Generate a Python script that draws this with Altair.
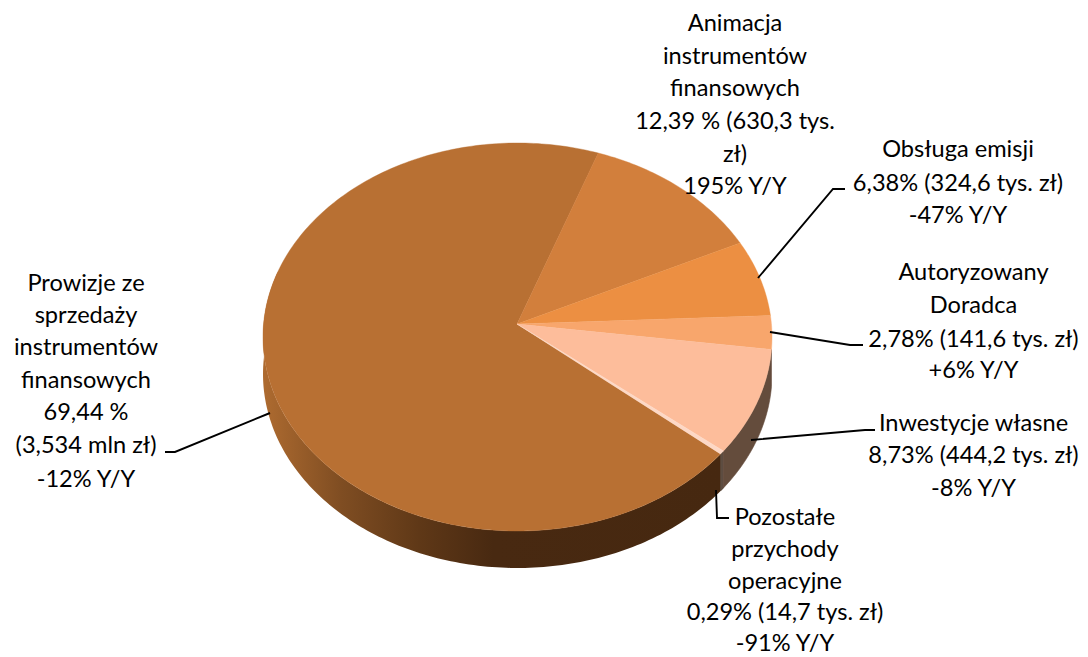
import math
import altair as alt

# ---- chart values ----
names = ["Animacja instrumentów finansowych", "Obsługa emisji", "Autoryzowany Doradca",
         "Inwestycje własne", "Pozostałe przychody operacyjne",
         "Prowizje ze sprzedaży instrumentów finansowych"]
shares = [12.39, 6.38, 2.78, 8.73, 0.29, 69.44]
top_colors = ["#D27F3C", "#EC8F42", "#F8A66C", "#FDBD9B", "#FDD8C6", "#B87033"]

label_lines = [
    ["Animacja", "instrumentów", "finansowych", "12,39 % (630,3 tys.", "zł)", "195% Y/Y"],
    ["Obsługa emisji", "6,38% (324,6 tys. zł)", "-47% Y/Y"],
    ["Autoryzowany", "Doradca", "2,78% (141,6 tys. zł)", "+6% Y/Y"],
    ["Inwestycje własne", "8,73% (444,2 tys. zł)", "-8% Y/Y"],
    ["Pozostałe", "przychody", "operacyjne", "0,29% (14,7 tys. zł)", "-91% Y/Y"],
    ["Prowizje ze", "sprzedaży", "instrumentów", "finansowych", "69,44 %", "(3,534 mln zł)", "-12% Y/Y"],
]

# ---- layout (page pixels) ----
label_x = [735, 958, 973.5, 973.5, 785, 86]
label_y = [
    [31, 64, 96, 129, 162, 194],
    [157, 191, 223],
    [280, 313, 347, 378],
    [431, 463, 496],
    [525, 557, 589, 620, 651],
    [291, 323, 355, 388, 420, 453, 487],
]
leaders = [
    [(758, 278), (833, 189), (845, 189)],
    [(770, 332), (850, 345), (863, 345)],
    [(751, 440), (865, 430), (875, 430)],
    [(716, 490), (717, 518), (729, 518)],
    [(270, 413), (175, 452), (165, 452)],
]
MARGIN = 8
APEX = (517.0, 324.0)
ELL_C = (517.5, 337.0)
RX, RY = 254.5, 194.0
DEPTH = 37
START = 19.9


def rim(theta):
    """Point of the tilted pie's rim at a true pie angle, in page pixels."""
    t = math.radians(theta)
    dx, dy = RX * math.sin(t), -RY * math.cos(t)
    ox, oy = (APEX[0] - ELL_C[0]) / RX, (APEX[1] - ELL_C[1]) / RY
    ux, uy = dx / RX, dy / RY
    a = ux * ux + uy * uy
    b = 2 * (ox * ux + oy * uy)
    c = ox * ox + oy * oy - 1
    s = (-b + math.sqrt(b * b - 4 * a * c)) / (2 * a)
    return APEX[0] + dx * s, APEX[1] + dy * s


def arc(t0, t1, shift=0):
    n = max(2, int(abs(t1 - t0)) + 2)
    pts = []
    for i in range(n + 1):
        x, y = rim(t0 + (t1 - t0) * i / n)
        pts.append([x - MARGIN, y + shift - MARGIN])
    return pts


def feature(ring):
    ring = ring + [ring[0]]
    return {"type": "Feature", "properties": {},
            "geometry": {"type": "Polygon", "coordinates": [ring]}}


# slice boundaries follow from the shares
bounds = [START]
for s in shares:
    bounds.append(bounds[-1] + s * 3.6)


def shape(ring, fill, stroke=None, sw=0.0):
    kw = {"fill": fill, "strokeWidth": sw}
    if stroke:
        kw["stroke"] = stroke
    return alt.Chart(alt.Data(values=[feature(ring)])).mark_geoshape(**kw).project(
        type="identity", scale=1, translate=[0, 0]
    )


def wall(t0, t1, fill, stroke=None):
    return shape(arc(t0, t1) + arc(t1, t0, DEPTH), fill, stroke, 0.6 if stroke else 0.0)


big_wall = {
    "gradient": "linear", "x1": 0, "x2": 1, "y1": 0, "y2": 0,
    "stops": [
        {"offset": 0.0, "color": "#AE6B30"},
        {"offset": 0.17, "color": "#7F4D22"},
        {"offset": 0.34, "color": "#5F3817"},
        {"offset": 0.5, "color": "#482911"},
        {"offset": 1.0, "color": "#462810"},
    ],
}

layers = [
    wall(bounds[5] - 1.0, 286, big_wall),
    wall(bounds[4], bounds[5], "#5E4E42", "#5E4E42"),
    wall(bounds[3], bounds[4], "#644C3C", "#644C3C"),
]

apex_px = [APEX[0] - MARGIN, APEX[1] - MARGIN]
order = [5, 0, 1, 2, 3, 4]
for i in order:
    ring = [apex_px] + arc(bounds[i], bounds[i + 1])
    layers.append(shape(ring, top_colors[i], top_colors[i], 0.4))

for k, path in enumerate(leaders):
    rows = [{"x": p[0] - MARGIN, "y": p[1] - MARGIN, "o": j} for j, p in enumerate(path)]
    layers.append(
        alt.Chart(alt.Data(values=rows)).mark_line(color="#000000", strokeWidth=1.9).encode(
            x=alt.X("x:Q", scale=None, axis=None),
            y=alt.Y("y:Q", scale=None, axis=None),
            order="o:Q",
        )
    )

text_rows = []
for lines, cx, ys in zip(label_lines, label_x, label_y):
    for line, yy in zip(lines, ys):
        text_rows.append({"t": line, "x": cx - MARGIN, "y": yy - MARGIN})

layers.append(
    alt.Chart(alt.Data(values=text_rows)).mark_text(
        font="Lato", fontSize=23.6, color="#000000", align="center", baseline="alphabetic"
    ).encode(
        x=alt.X("x:Q", scale=None, axis=None),
        y=alt.Y("y:Q", scale=None, axis=None),
        text="t:N",
    )
)

chart = alt.layer(*layers).properties(
    width=1072, height=649, padding=0, autosize=alt.AutoSizeParams(type="none"),
    background="#FFFFFF",
).configure_view(stroke=None)

chart.save("out.html", embed_options={"renderer": "svg", "actions": False})
